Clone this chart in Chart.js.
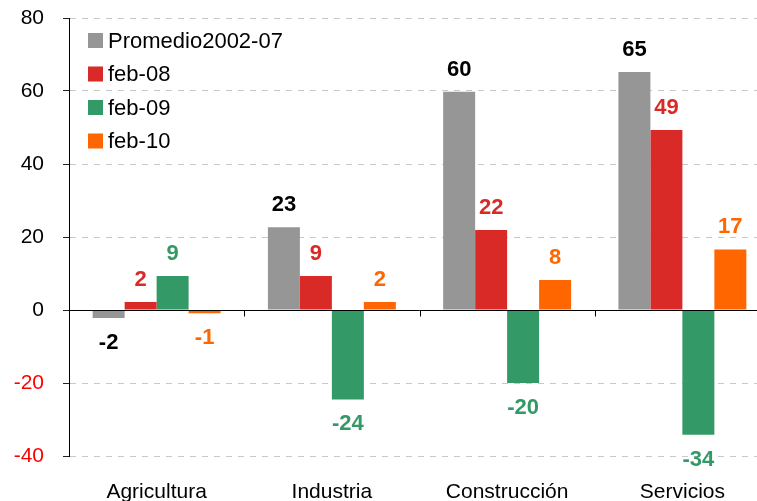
<!DOCTYPE html>
<html>
<head>
<meta charset="utf-8">
<script src="https://cdn.jsdelivr.net/npm/chart.js@4.4.0/dist/chart.umd.min.js"></script>
<style>
  html, body { margin: 0; padding: 0; background: #fff; overflow: hidden; }
  #wrap { width: 770px; height: 501px; }
</style>
</head>
<body>
<div id="wrap"><canvas id="chart_canvas" width="770" height="501"></canvas></div>
<script>
// datos
const categorias = ['Agricultura', 'Industria', 'Construcción', 'Servicios'];
const promedio = [-2.2, 22.7, 59.8, 65.2];
const feb08 = [2.2, 9.3, 21.9, 49.3];
const feb09 = [9.3, -24.5, -20, -34.2];
const feb10 = [-0.9, 2.2, 8.2, 16.6];
const yTicks = [80, 60, 40, 20, 0, -20, -40];

const fontName = '"Liberation Sans", Arial, sans-serif';

// etiquetas encima/debajo de cada barra
const barLabels = {
    id: 'barLabels',
    afterDatasetsDraw(chart) {
        const { ctx } = chart;
        ctx.save();
        ctx.font = 'bold 22px ' + fontName;
        ctx.textAlign = 'center';
        ctx.textBaseline = 'alphabetic';
        chart.data.datasets.forEach((ds, i) => {
            const meta = chart.getDatasetMeta(i);
            meta.data.forEach((bar, j) => {
                const v = ds.data[j];
                const txt = Math.round(v).toString();
                ctx.fillStyle = ds.labelColor;
                if (v >= 0) {
                    ctx.fillText(txt, bar.x, bar.y - 16);
                } else {
                    ctx.fillText(txt, bar.x, bar.y + 15 + 16);
                }
            });
        });
        ctx.restore();
    }
};

// linea del cero con marcas entre categorias
const zeroLine = {
    id: 'zeroLine',
    afterDatasetsDraw(chart) {
        const { ctx, chartArea: { left, right } } = chart;
        const y0 = Math.round(chart.scales.y.getPixelForValue(0)) + 0.5;
        const xs = chart.scales.x;
        ctx.save();
        ctx.strokeStyle = '#000';
        ctx.lineWidth = 1;
        ctx.beginPath();
        ctx.moveTo(left, y0);
        ctx.lineTo(right, y0);
        for (let k = 1; k < categorias.length; k++) {
            const xb = Math.round((xs.getPixelForValue(k - 1) + xs.getPixelForValue(k)) / 2) + 0.5;
            ctx.moveTo(xb, y0);
            ctx.lineTo(xb, y0 + 6);
        }
        ctx.stroke();
        ctx.restore();
    }
};

// leyenda vertical dentro del grafico
const innerLegend = {
    id: 'innerLegend',
    afterDraw(chart) {
        const { ctx } = chart;
        ctx.save();
        ctx.font = '22px ' + fontName;
        ctx.textBaseline = 'middle';
        ctx.textAlign = 'left';
        chart.data.datasets.forEach((ds, i) => {
            const cy = 40.5 + i * 33.5;
            ctx.fillStyle = ds.backgroundColor;
            ctx.fillRect(88, cy - 7.5, 15, 15);
            ctx.fillStyle = '#000';
            ctx.fillText(ds.label, 108, cy + 1);
        });
        ctx.restore();
    }
};

const data = {
    labels: categorias,
    datasets: [{
        label: 'Promedio2002-07',
        data: promedio,
        backgroundColor: '#969696',
        labelColor: '#000000'
    }, {
        label: 'feb-08',
        data: feb08,
        backgroundColor: '#d92a27',
        labelColor: '#d92a27'
    }, {
        label: 'feb-09',
        data: feb09,
        backgroundColor: '#339966',
        labelColor: '#339966'
    }, {
        label: 'feb-10',
        data: feb10,
        backgroundColor: '#ff6600',
        labelColor: '#ff6600'
    }]
};

const conf = {
    type: 'bar',
    data: data,
    options: {
        responsive: false,
        animation: false,
        layout: { padding: { top: 18, left: 0, right: 0, bottom: 0 } },
        datasets: {
            bar: {
                categoryPercentage: 0.73,
                barPercentage: 1,
                borderWidth: 0
            }
        },
        scales: {
            x: {
                grid: { display: false, drawTicks: false },
                border: { display: false },
                ticks: {
                    color: '#000',
                    padding: 24,
                    maxRotation: 0,
                    font: { family: fontName, size: 21 }
                },
                afterFit(scale) {
                    scale.height = 45;
                    scale.paddingTop = 0;
                    scale.paddingBottom = 0;
                }
            },
            y: {
                min: -40,
                max: 80,
                afterBuildTicks(scale) {
                    scale.ticks = yTicks.map(v => ({ value: v }));
                },
                grid: {
                    color: (c) => c.tick && c.tick.value === 0 ? 'rgba(0,0,0,0)' : '#c8c8c8',
                    tickLength: 6,
                    tickColor: '#222',
                    tickBorderDash: []
                },
                border: { display: true, color: '#000', width: 1, dash: [6, 6] },
                ticks: {
                    padding: 19,
                    color: (c) => c.tick.value < 0 ? '#ff0000' : '#000',
                    font: { family: fontName, size: 21 }
                },
                afterFit(scale) {
                    scale.width = 69;
                    scale.paddingTop = 0;
                    scale.paddingBottom = 0;
                }
            }
        },
        plugins: {
            legend: { display: false },
            tooltip: { enabled: false }
        }
    },
    plugins: [barLabels, zeroLine, innerLegend]
};

const canva = document.getElementById('chart_canvas');
const myChart = new Chart(canva, conf);
</script>
</body>
</html>
